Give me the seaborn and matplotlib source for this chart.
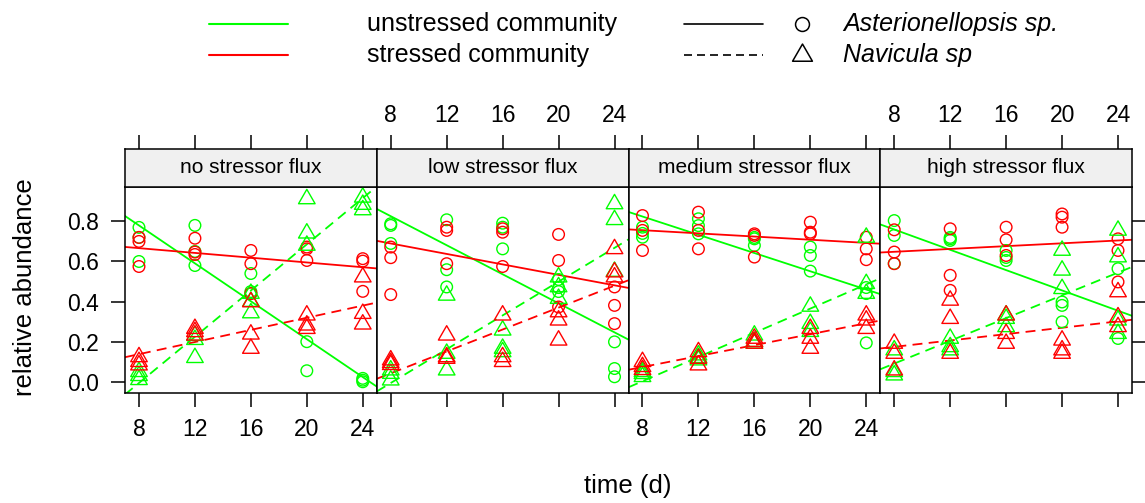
import numpy as np
import pandas as pd
import matplotlib
matplotlib.use("Agg")
import matplotlib.pyplot as plt
from matplotlib.lines import Line2D
from matplotlib.path import Path
import seaborn as sns

# ---- data -----------------------------------------------------------------
days = [8, 12, 16, 20, 24]
panels = ["no stressor flux", "low stressor flux",
          "medium stressor flux", "high stressor flux"]
communities = ["unstressed community", "stressed community"]
species = ["Asterionellopsis sp.", "Navicula sp"]

# replicate relative abundances per day (one inner list per day)
no_ast_unstressed = [[0.77, 0.72, 0.60], [0.78, 0.65, 0.58], [0.54, 0.45, 0.44],
                     [0.20, 0.055], [0.017, 0.008, 0.0]]
no_ast_stressed = [[0.72, 0.70, 0.575], [0.716, 0.647, 0.635], [0.655, 0.589, 0.44],
                   [0.672, 0.663, 0.605], [0.614, 0.602, 0.451]]
no_nav_unstressed = [[0.05, 0.03, 0.01], [0.21, 0.12, 0.23], [0.44, 0.40, 0.343],
                     [0.912, 0.741, 0.68], [0.92, 0.884, 0.857]]
no_nav_stressed = [[0.124, 0.10, 0.083], [0.265, 0.249, 0.232], [0.398, 0.237, 0.166],
                   [0.332, 0.282, 0.265], [0.522, 0.34, 0.287]]

low_ast_unstressed = [[0.788, 0.78, 0.69], [0.808, 0.559, 0.473], [0.791, 0.771, 0.663],
                      [0.51, 0.47, 0.45], [0.199, 0.066, 0.025]]
low_ast_stressed = [[0.672, 0.619, 0.435], [0.771, 0.755, 0.589], [0.763, 0.746, 0.575],
                    [0.735, 0.605, 0.373], [0.473, 0.381, 0.29]]
low_nav_unstressed = [[0.058, 0.041, 0.008], [0.431, 0.141, 0.058], [0.257, 0.166, 0.149],
                      [0.522, 0.473, 0.415], [0.887, 0.808, 0.55]]
low_nav_stressed = [[0.108, 0.095, 0.085], [0.232, 0.124, 0.116], [0.332, 0.124, 0.10],
                    [0.348, 0.307, 0.207], [0.663, 0.547, 0.522]]

med_ast_unstressed = [[0.771, 0.721, 0.74], [0.813, 0.779, 0.738], [0.713, 0.68, 0.72],
                      [0.672, 0.63, 0.552], [0.47, 0.44, 0.194]]
med_ast_stressed = [[0.829, 0.755, 0.655], [0.846, 0.755, 0.663], [0.738, 0.73, 0.622],
                    [0.796, 0.746, 0.738], [0.721, 0.663, 0.609]]
med_nav_unstressed = [[0.05, 0.025, 0.04], [0.133, 0.108, 0.12], [0.232, 0.191, 0.2],
                      [0.376, 0.29, 0.25], [0.72, 0.489, 0.44]]
med_nav_stressed = [[0.10, 0.075, 0.06], [0.149, 0.116, 0.083], [0.216, 0.191, 0.2],
                    [0.265, 0.216, 0.166], [0.332, 0.307, 0.265]]

high_ast_unstressed = [[0.804, 0.73, 0.59], [0.713, 0.705, 0.72], [0.655, 0.605, 0.62],
                       [0.398, 0.381, 0.299], [0.564, 0.216]]
high_ast_stressed = [[0.758, 0.647, 0.589], [0.763, 0.531, 0.456], [0.771, 0.708, 0.63],
                     [0.837, 0.821, 0.771], [0.713, 0.655, 0.498]]
high_nav_unstressed = [[0.158, 0.05, 0.033], [0.216, 0.174, 0.158], [0.332, 0.315, 0.274],
                       [0.655, 0.556, 0.464], [0.755, 0.622, 0.307, 0.24]]
high_nav_stressed = [[0.191, 0.141, 0.058], [0.406, 0.315, 0.141], [0.332, 0.24, 0.191],
                     [0.207, 0.158, 0.141], [0.448, 0.323, 0.274]]

x_ticks = [8, 12, 16, 20, 24]
y_ticks = [0.0, 0.2, 0.4, 0.6, 0.8]
y_tick_labels = ["0.0", "0.2", "0.4", "0.6", "0.8"]

series = {
    ("no stressor flux", "unstressed community", "Asterionellopsis sp."): no_ast_unstressed,
    ("no stressor flux", "stressed community", "Asterionellopsis sp."): no_ast_stressed,
    ("no stressor flux", "unstressed community", "Navicula sp"): no_nav_unstressed,
    ("no stressor flux", "stressed community", "Navicula sp"): no_nav_stressed,
    ("low stressor flux", "unstressed community", "Asterionellopsis sp."): low_ast_unstressed,
    ("low stressor flux", "stressed community", "Asterionellopsis sp."): low_ast_stressed,
    ("low stressor flux", "unstressed community", "Navicula sp"): low_nav_unstressed,
    ("low stressor flux", "stressed community", "Navicula sp"): low_nav_stressed,
    ("medium stressor flux", "unstressed community", "Asterionellopsis sp."): med_ast_unstressed,
    ("medium stressor flux", "stressed community", "Asterionellopsis sp."): med_ast_stressed,
    ("medium stressor flux", "unstressed community", "Navicula sp"): med_nav_unstressed,
    ("medium stressor flux", "stressed community", "Navicula sp"): med_nav_stressed,
    ("high stressor flux", "unstressed community", "Asterionellopsis sp."): high_ast_unstressed,
    ("high stressor flux", "stressed community", "Asterionellopsis sp."): high_ast_stressed,
    ("high stressor flux", "unstressed community", "Navicula sp"): high_nav_unstressed,
    ("high stressor flux", "stressed community", "Navicula sp"): high_nav_stressed,
}

rows = []
for (panel, comm, sp), per_day in series.items():
    for d, vals in zip(days, per_day):
        for v in vals:
            rows.append(dict(panel=panel, community=comm, species=sp, day=d, abundance=v))
df = pd.DataFrame(rows)

# ---- styling --------------------------------------------------------------
sns.set_theme(style="white")
plt.rcParams["font.family"] = ["Liberation Sans", "DejaVu Sans"]
plt.rcParams.update({"text.color": "black", "axes.labelcolor": "black",
                     "xtick.color": "black", "ytick.color": "black"})

colors = {"unstressed community": "#00FF00", "stressed community": "#FF0000"}
tri = Path([(0.0, 1.0), (-0.866, -0.5), (0.866, -0.5), (0.0, 1.0)],
           [Path.MOVETO, Path.LINETO, Path.LINETO, Path.CLOSEPOLY])
markers = {"Asterionellopsis sp.": "o", "Navicula sp": tri}
msizes = {"Asterionellopsis sp.": 70, "Navicula sp": 190}
lstyles = {"Asterionellopsis sp.": "-", "Navicula sp": (0, (5.5, 3.5))}
key_styles = {"Asterionellopsis sp.": "-", "Navicula sp": (0, (4.8, 3.0))}

W, H = 1145, 503
fig = plt.figure(figsize=(W / 100, H / 100), dpi=100)

x_left, x_right = 125, 1132
pw = (x_right - x_left) / 4
plot_top, plot_bot = 186.5, 393
strip_top = 149.3
xlim = (7.0, 25.0)
ylim = (-0.056, 0.974)

tick_fs = 16.5
lw_frame = 1.1

for i, panel in enumerate(panels):
    l = (x_left + i * pw) / W
    ax = fig.add_axes([l, 1 - plot_bot / H, pw / W, (plot_bot - plot_top) / H])
    sax = fig.add_axes([l, 1 - plot_top / H, pw / W, (plot_top - strip_top) / H], sharex=ax)
    ax.set_xlim(*xlim)
    ax.set_ylim(*ylim)

    sub = df[df.panel == panel]
    for sp in species:
        for comm in communities:
            g = sub[(sub.community == comm) & (sub.species == sp)]
            sns.regplot(data=g, x="day", y="abundance", ax=ax, ci=None, truncate=False,
                        marker=markers[sp], color=colors[comm],
                        scatter_kws=dict(facecolors="none", s=msizes[sp],
                                         linewidths=1.0, alpha=1, clip_on=False, zorder=3),
                        line_kws=dict(lw=1.3, ls=lstyles[sp], zorder=2))
    ax.set_xlim(*xlim)
    ax.set_ylim(*ylim)
    ax.set_xlabel("")
    ax.set_ylabel("")
    ax.set_facecolor("white")
    for s in ax.spines.values():
        s.set_visible(True)
        s.set_color("black")
        s.set_linewidth(lw_frame)

    # bottom axis: ticks on every panel, labels on alternate panels
    ax.set_xticks(x_ticks)
    ax.tick_params(axis="x", which="both", bottom=True, top=False, direction="out",
                   length=10, width=lw_frame, color="black",
                   labelbottom=(i % 2 == 0), labelsize=tick_fs, pad=8)
    ax.set_yticks(y_ticks)
    ax.set_yticklabels(y_tick_labels)
    ax.tick_params(axis="y", direction="out", length=10, width=lw_frame, color="black",
                   left=(i == 0), labelleft=(i == 0), right=(i == 3), labelright=False,
                   labelsize=tick_fs, pad=9)

    # strip with the panel title; top axis ticks sit above it
    sax.set_facecolor("#f0f0f0")
    sax.set_ylim(0, 1)
    sax.set_yticks([])
    for s in sax.spines.values():
        s.set_visible(True)
        s.set_color("black")
        s.set_linewidth(lw_frame)
    sax.tick_params(axis="x", bottom=False, labelbottom=False, top=True,
                    labeltop=(i % 2 == 1), direction="out", length=10,
                    width=lw_frame, color="black", labelsize=tick_fs, pad=6)
    sax.text(0.5, 0.5, panel, transform=sax.transAxes, ha="center", va="center",
             fontsize=15, color="black")

fig.text(25 / W, 1 - 287 / H, "relative abundance", rotation=90, ha="center",
         va="center", fontsize=18.5)
fig.text(628 / W, 1 - 486 / H, "time (d)", ha="center", va="center", fontsize=18.5)

# key above the panels
row_y = [1 - 24 / H, 1 - 55 / H]
for comm, yy in zip(communities, row_y):
    fig.add_artist(Line2D([209 / W, 288 / W], [yy, yy], color=colors[comm], lw=1.5,
                          transform=fig.transFigure))
    fig.text(367 / W, yy, comm, ha="left", va="center", fontsize=18)
for sp, yy in zip(species, row_y):
    fig.add_artist(Line2D([684 / W, 763 / W], [yy, yy], color="black", lw=1.2,
                          ls=key_styles[sp], transform=fig.transFigure))
    fig.add_artist(Line2D([802 / W], [yy], marker=markers[sp], ls="none",
                          markersize=(10 if sp.startswith("A") else 16.5),
                          markerfacecolor="none", markeredgecolor="black",
                          markeredgewidth=1.1, transform=fig.transFigure))
    fig.text(843 / W, yy, sp, ha="left", va="center", fontsize=18, style="italic")

fig.savefig("out.png", dpi=100)
